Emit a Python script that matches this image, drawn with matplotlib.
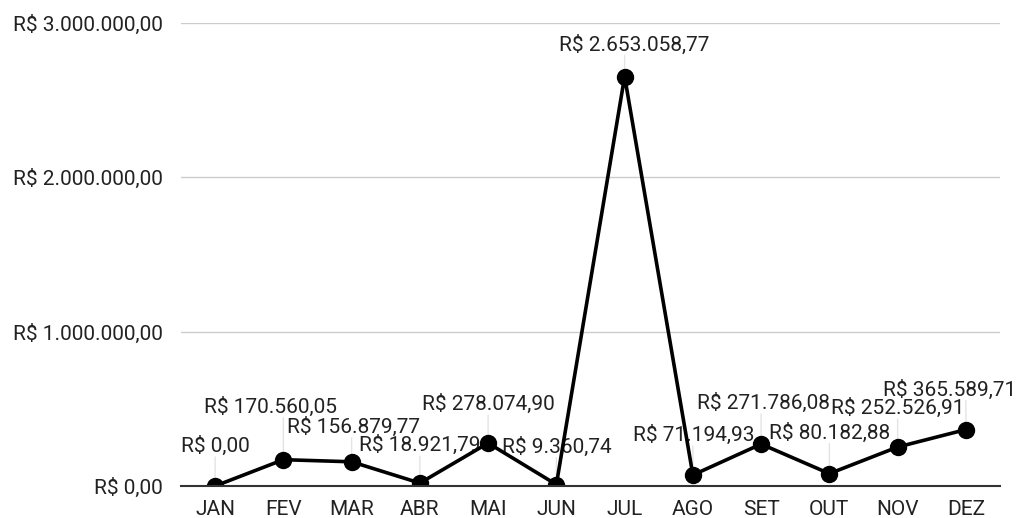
import matplotlib
matplotlib.use("Agg")
import matplotlib.pyplot as plt
from matplotlib.ticker import FuncFormatter

plt.rcParams['font.family'] = ['Roboto', 'DejaVu Sans']

months = ["JAN", "FEV", "MAR", "ABR", "MAI", "JUN", "JUL", "AGO", "SET", "OUT", "NOV", "DEZ"]
values = [0.00, 170560.05, 156879.77, 18921.79, 278074.90, 9360.74,
          2653058.77, 71194.93, 271786.08, 80182.88, 252526.91, 365589.71]
value_labels = ["R$ 0,00", "R$ 170.560,05", "R$ 156.879,77", "R$ 18.921,79",
                "R$ 278.074,90", "R$ 9.360,74", "R$ 2.653.058,77", "R$ 71.194,93",
                "R$ 271.786,08", "R$ 80.182,88", "R$ 252.526,91", "R$ 365.589,71"]
y_ticks = [0, 1000000, 2000000, 3000000]

# label placement offsets (pixels) relative to each point
label_dx = [0, -13, 2, 0, 0, 0, 10, 1, 2, 0, 0, -16]
label_dy = [40, 53, 35, 38, 39, 38, 32, 40, 41, 41, 39, 40]


def brl(v, pos=None):
    s = f"{v:,.2f}"
    s = s.replace(",", "X").replace(".", ",").replace("X", ".")
    return "R$ " + s


fig = plt.figure(figsize=(10.24, 5.18), dpi=100)
ax = fig.add_axes([181/1024, 1-486/518, (1000-181)/1024, (486-23)/518])

x = list(range(len(months)))
ax.plot(x, values, color='black', lw=2.6, marker='o', ms=11.5, zorder=4)

for i, (v, lab) in enumerate(zip(values, value_labels)):
    # leader line from point up to label
    ax.annotate('', xy=(i, v), xytext=(0, label_dy[i] - 11),
                textcoords='offset pixels', zorder=1.5,
                arrowprops=dict(arrowstyle='-', color='#e3e3e3', lw=1,
                                shrinkA=0, shrinkB=0))
    ax.annotate(lab, xy=(i, v), xytext=(label_dx[i], label_dy[i]),
                textcoords='offset pixels', ha='center', va='center',
                fontsize=15, color='#222222', zorder=2)

ax.set_xlim(-0.5, len(months) - 0.5)
ax.set_ylim(0, 3000000)
ax.set_yticks(y_ticks)
ax.yaxis.set_major_formatter(FuncFormatter(brl))
ax.set_xticks(x)
ax.set_xticklabels(months)
ax.tick_params(axis='both', length=0, labelsize=15, colors='#222222')
ax.tick_params(axis='y', pad=13)
ax.tick_params(axis='x', pad=10)
ax.grid(axis='y', color='#cccccc', lw=1)
ax.set_axisbelow(True)
for s in ['top', 'right', 'left']:
    ax.spines[s].set_visible(False)
ax.spines['bottom'].set_color('#333333')
ax.spines['bottom'].set_linewidth(1.5)
ax.spines['bottom'].set_zorder(5)

fig.savefig("out.png", dpi=100)
